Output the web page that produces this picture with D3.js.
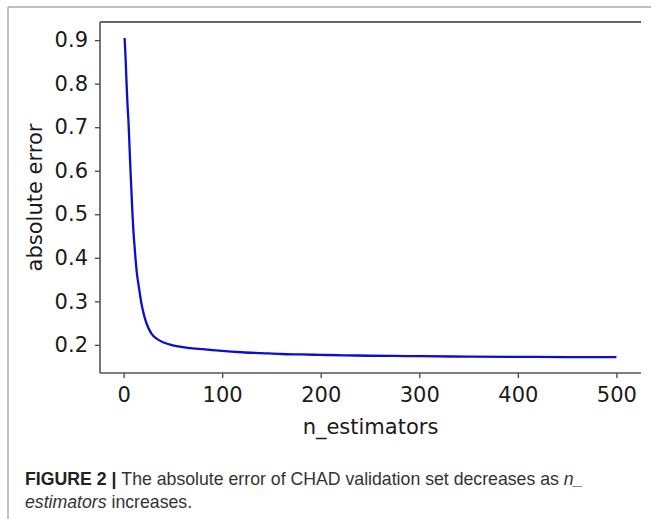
<!DOCTYPE html>
<html>
<head>
<meta charset="utf-8">
<script src="https://cdn.jsdelivr.net/npm/d3@7"></script>
<style>
  html, body { margin: 0; padding: 0; background: #fff; }
  svg { display: block; }
</style>
</head>
<body>
<svg id="chart" width="651" height="519"></svg>
<script>
// ---- data ----
const nEstimators = [1,2,3,4,5,6,7,8,9,10,11,12,13,14,15,16,17,18,19,20,22,24,26,28,30,35,40,45,50,60,70,80,90,100,120,140,160,180,200,225,250,275,300,350,400,450,500];
const absError = [0.905,0.86,0.80,0.75,0.71,0.655,0.60,0.55,0.50,0.46,0.43,0.40,0.375,0.355,0.34,0.325,0.31,0.296,0.285,0.275,0.258,0.245,0.235,0.227,0.221,0.212,0.206,0.202,0.199,0.195,0.192,0.190,0.188,0.186,0.183,0.181,0.179,0.178,0.177,0.176,0.175,0.1745,0.174,0.173,0.1725,0.172,0.172];
const xTicks = [0,100,200,300,400,500];
const yTicks = [0.2,0.3,0.4,0.5,0.6,0.7,0.8,0.9];
const xLabel = "n_estimators";
const yLabel = "absolute error";

const svg = d3.select("#chart");
const pL = 100, pR = 641, pT = 22, pB = 373;

// matplotlib-style 5% margins
const xe = d3.extent(nEstimators), ye = d3.extent(absError);
const xm = (xe[1]-xe[0])*0.05, ym = (ye[1]-ye[0])*0.05;
const x = d3.scaleLinear().domain([xe[0]-xm, xe[1]+xm]).range([pL, pR]);
const y = d3.scaleLinear().domain([ye[0]-ym, ye[1]+ym]).range([pB, pT]);

// outer panel frame
svg.append("line").attr("x1",8).attr("y1",7).attr("x2",651).attr("y2",7).attr("stroke","#a8a8a8").attr("stroke-width",1.5);
svg.append("line").attr("x1",8).attr("y1",7).attr("x2",8).attr("y2",519).attr("stroke","#a8a8a8").attr("stroke-width",1.5);

const font = "'DejaVu Sans', sans-serif";

// axes
const xAxis = svg.append("g").attr("transform",`translate(0,${pB})`)
  .call(d3.axisBottom(x).tickValues(xTicks).tickFormat(d3.format("d")).tickSize(5).tickPadding(9));
const yAxis = svg.append("g").attr("transform",`translate(${pL},0)`)
  .call(d3.axisLeft(y).tickValues(yTicks).tickFormat(d3.format(".1f")).tickSize(5).tickPadding(7));
[xAxis, yAxis].forEach(g => {
  g.select(".domain").remove();
  g.selectAll(".tick line").attr("stroke","#444").attr("stroke-width",1.3);
  g.selectAll(".tick text").attr("fill","#1a1a1a").style("font-family",font).style("font-size","21px");
});
xAxis.selectAll(".tick text").attr("dy","0.71em");

// spines (left, bottom, top)
svg.append("line").attr("x1",pL).attr("y1",pT).attr("x2",pL).attr("y2",pB).attr("stroke","#555").attr("stroke-width",1.6);
svg.append("line").attr("x1",pL).attr("y1",pB).attr("x2",pR).attr("y2",pB).attr("stroke","#555").attr("stroke-width",1.6);
svg.append("line").attr("x1",pL).attr("y1",pT).attr("x2",pR).attr("y2",pT).attr("stroke","#666").attr("stroke-width",2);

// line
const line = d3.line().x((d,i)=>x(nEstimators[i])).y(d=>y(d)).curve(d3.curveMonotoneX);
svg.append("path").datum(absError).attr("d",line).attr("fill","none")
  .attr("stroke","#0d0dd0").attr("stroke-width",2.3).attr("stroke-linejoin","round");

// axis labels
svg.append("text").attr("x",(pL+pR)/2).attr("y",434).attr("text-anchor","middle")
  .style("font-family",font).style("font-size","21px").attr("fill","#1a1a1a").text(xLabel);
svg.append("text").attr("transform",`translate(42,${(pT+pB)/2}) rotate(-90)`).attr("text-anchor","middle")
  .style("font-family",font).style("font-size","21px").attr("fill","#1a1a1a").text(yLabel);

// caption
const capFont = "'Liberation Sans Narrow', 'Liberation Sans', Arial, sans-serif";
const c1 = svg.append("text").attr("x",25).attr("y",485).style("font-family",capFont).style("font-size","17.7px").attr("fill","#333");
c1.append("tspan").style("font-weight","bold").attr("fill","#222").text("FIGURE 2 | ");
c1.append("tspan").text("The absolute error of CHAD validation set decreases as ");
c1.append("tspan").style("font-style","italic").text("n_");
const c2 = svg.append("text").attr("x",25).attr("y",508).style("font-family",capFont).style("font-size","17.7px").attr("fill","#333");
c2.append("tspan").style("font-style","italic").text("estimators");
c2.append("tspan").text(" increases.");
</script>
</body>
</html>
